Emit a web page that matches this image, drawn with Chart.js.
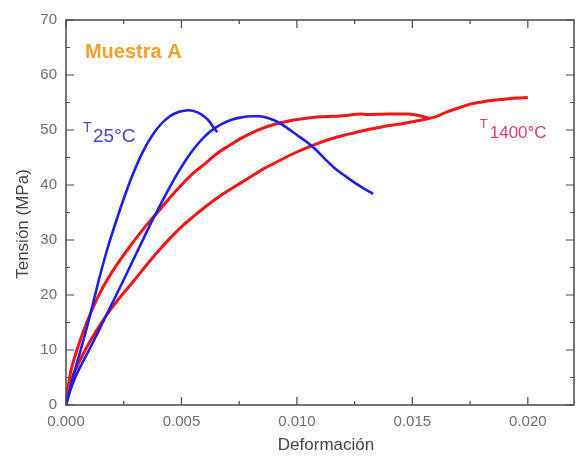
<!DOCTYPE html>
<html>
<head>
<meta charset="utf-8">
<title>Tensión - Deformación</title>
<script src="https://cdn.jsdelivr.net/npm/chart.js@4.4.1/dist/chart.umd.min.js"></script>
<style>
  html, body { margin: 0; padding: 0; background: #fff; }
</style>
</head>
<body>
<canvas id="stressChart" width="579" height="456"></canvas>
<script>
// T = 25 °C, primera probeta
const blueAX = [0, 0.0003, 0.0006, 0.0009, 0.0012, 0.0015, 0.0018, 0.0021, 0.0025, 0.0029, 0.0033, 0.0037, 0.0041, 0.0045, 0.0049, 0.0053, 0.0057, 0.0060, 0.0062, 0.0064, 0.00655];
const blueAY = [0, 5, 9.5, 14, 19, 24, 28.5, 32.5, 37.5, 42, 45.8, 48.8, 51, 52.5, 53.3, 53.6, 53.2, 52.4, 51.6, 50.4, 49.6];

// T = 25 °C, segunda probeta
const blueBX = [0, 0.0002, 0.0004, 0.0007, 0.001, 0.0013, 0.0016, 0.002, 0.0024, 0.0028, 0.0032, 0.0036, 0.004, 0.0044, 0.0048, 0.0052, 0.0056, 0.006, 0.0064, 0.0068, 0.0072, 0.0076, 0.008, 0.0084, 0.0088, 0.0092, 0.0096, 0.01, 0.0104, 0.0108, 0.0112, 0.0116, 0.012, 0.0124, 0.0128, 0.0133];
const blueBY = [0, 2.8, 5, 7.6, 10, 12.5, 15.1, 18.5, 21.9, 25.4, 28.9, 32.4, 35.7, 38.9, 41.9, 44.6, 46.9, 48.8, 50.2, 51.2, 51.9, 52.3, 52.5, 52.5, 52.1, 51.4, 50.3, 49.1, 47.9, 46.5, 44.8, 43.2, 41.9, 40.7, 39.6, 38.4];

// T = 1400 °C, primera probeta
const redAX = [0, 0.0001, 0.0002, 0.0004, 0.0006, 0.0009, 0.0012, 0.0016, 0.002, 0.0024, 0.0028, 0.0032, 0.0036, 0.004, 0.0045, 0.005, 0.0055, 0.006, 0.0065, 0.007, 0.0075, 0.008, 0.0085, 0.009, 0.0095, 0.01, 0.0105, 0.011, 0.012, 0.0128, 0.013, 0.014, 0.0148, 0.0153, 0.0157];
const redAY = [0, 3.5, 6, 9, 11.6, 15, 18, 21.4, 24.2, 26.7, 29, 31.2, 33.3, 35.2, 37.7, 40, 42.1, 43.8, 45.6, 47, 48.3, 49.4, 50.3, 51, 51.5, 51.9, 52.2, 52.4, 52.6, 52.9, 52.8, 52.9, 52.9, 52.6, 52.2];

// T = 1400 °C, segunda probeta
const redBX = [0, 0.0001, 0.0002, 0.0005, 0.0009, 0.0013, 0.0017, 0.0021, 0.0025, 0.003, 0.0035, 0.004, 0.0045, 0.005, 0.0055, 0.006, 0.0065, 0.007, 0.0075, 0.008, 0.0085, 0.009, 0.0095, 0.01, 0.0105, 0.011, 0.0115, 0.012, 0.0125, 0.013, 0.0135, 0.014, 0.0145, 0.015, 0.0155, 0.016, 0.0165, 0.017, 0.0175, 0.018, 0.0185, 0.019, 0.0195, 0.02];
const redBY = [0, 2.5, 4.2, 7.2, 10.5, 13.4, 16, 18.3, 20.4, 22.9, 25.5, 28, 30.3, 32.4, 34.2, 35.9, 37.5, 38.9, 40.2, 41.5, 42.8, 43.9, 45, 46, 46.9, 47.7, 48.4, 49, 49.5, 50, 50.4, 50.8, 51.1, 51.5, 51.9, 52.4, 53.3, 54, 54.7, 55.1, 55.4, 55.6, 55.8, 55.9];

const xTickStep = 0.005;
const yTickStep = 10;

const blue = 'rgb(30, 30, 230)';
const red = 'rgb(242, 22, 22)';
const axisColor = '#4a4a4a';
const fontFamily = '"Liberation Sans", Arial, Helvetica, sans-serif';

function toPoints(xs, ys) {
  return xs.map((x, i) => ({ x: x, y: ys[i] }));
}

// marco completo con marcas hacia dentro (mayores y menores) y textos
const frameAndLabels = {
  id: 'frameAndLabels',
  afterDatasetsDraw(chart) {
    const { ctx, chartArea: a, scales: { x, y } } = chart;
    ctx.save();
    ctx.strokeStyle = axisColor;
    ctx.lineWidth = 1.5;
    ctx.strokeRect(a.left, a.top, a.right - a.left, a.bottom - a.top);

    ctx.lineWidth = 1.2;
    ctx.beginPath();
    for (let i = 0; i <= 8; i++) {
      const px = x.getPixelForValue(i * xTickStep / 2);
      const len = i % 2 === 0 ? 8 : 4;
      ctx.moveTo(px, a.bottom); ctx.lineTo(px, a.bottom - len);
      ctx.moveTo(px, a.top); ctx.lineTo(px, a.top + len);
    }
    for (let i = 0; i <= 14; i++) {
      const py = y.getPixelForValue(i * yTickStep / 2);
      const len = i % 2 === 0 ? 8 : 4;
      ctx.moveTo(a.left, py); ctx.lineTo(a.left + len, py);
      ctx.moveTo(a.right, py); ctx.lineTo(a.right - len, py);
    }
    ctx.stroke();

    // títulos de los ejes
    ctx.fillStyle = '#454545';
    ctx.font = '17px ' + fontFamily;
    ctx.textAlign = 'center';
    ctx.textBaseline = 'middle';
    ctx.fillText('Deformación', 326, 445);
    ctx.save();
    ctx.translate(23, 224);
    ctx.rotate(-Math.PI / 2);
    ctx.fillText('Tensión (MPa)', 0, 0);
    ctx.restore();

    ctx.textAlign = 'left';
    ctx.textBaseline = 'alphabetic';

    ctx.fillStyle = '#f5a02c';
    ctx.font = 'bold 20px ' + fontFamily;
    ctx.fillText('Muestra A', x.getPixelForValue(0.00082), y.getPixelForValue(63.1));

    ctx.fillStyle = '#4646c8';
    ctx.font = '14px ' + fontFamily;
    ctx.fillText('T', x.getPixelForValue(0.00074), y.getPixelForValue(49.6));
    ctx.font = '19px ' + fontFamily;
    ctx.fillText('25°C', x.getPixelForValue(0.00117), y.getPixelForValue(47.8));

    ctx.fillStyle = '#dc3c6e';
    ctx.font = '13px ' + fontFamily;
    ctx.fillText('T', x.getPixelForValue(0.01792), y.getPixelForValue(50.4));
    ctx.font = '17px ' + fontFamily;
    ctx.fillText('1400°C', x.getPixelForValue(0.01835), y.getPixelForValue(48.5));
    ctx.restore();
  }
};

const ctx = document.getElementById('stressChart').getContext('2d');
const chart = new Chart(ctx, {
  type: 'line',
  data: {
    datasets: [
      { label: 'T25°C (1)', data: toPoints(blueAX, blueAY), borderColor: blue, borderWidth: 2.6 },
      { label: 'T25°C (2)', data: toPoints(blueBX, blueBY), borderColor: blue, borderWidth: 2.6 },
      { label: 'T1400°C (1)', data: toPoints(redAX, redAY), borderColor: red, borderWidth: 3 },
      { label: 'T1400°C (2)', data: toPoints(redBX, redBY), borderColor: red, borderWidth: 3 }
    ]
  },
  options: {
    responsive: false,
    animation: false,
    elements: {
      point: { radius: 0 },
      line: { cubicInterpolationMode: 'monotone', fill: false }
    },
    layout: {
      padding: { top: 20, right: 5, left: 0, bottom: 0 }
    },
    plugins: {
      legend: { display: false },
      tooltip: { enabled: false }
    },
    scales: {
      x: {
        type: 'linear',
        min: 0,
        max: 0.022,
        grid: { display: false, drawTicks: false },
        border: { display: false },
        ticks: {
          stepSize: xTickStep,
          includeBounds: false,
          autoSkip: false,
          maxRotation: 0,
          padding: 8,
          color: '#6e6e6e',
          font: { family: fontFamily, size: 15 },
          callback: value => value.toFixed(3)
        },
        afterFit(scale) { scale.height = 51; }
      },
      y: {
        min: 0,
        max: 70,
        grid: { display: false, drawTicks: false },
        border: { display: false },
        ticks: {
          stepSize: yTickStep,
          autoSkip: false,
          padding: 9,
          color: '#6e6e6e',
          font: { family: fontFamily, size: 15 }
        },
        afterFit(scale) { scale.width = 66; }
      }
    }
  },
  plugins: [frameAndLabels]
});
</script>
</body>
</html>
